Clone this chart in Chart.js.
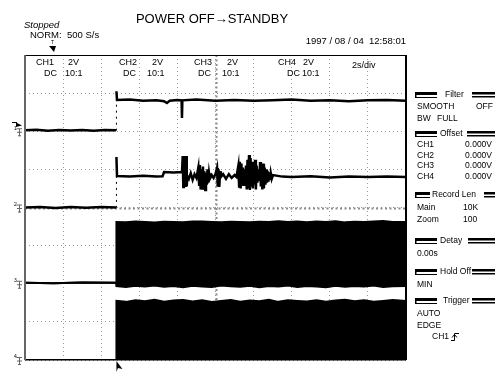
<!DOCTYPE html>
<html>
<head>
<meta charset="utf-8">
<script src="https://cdn.jsdelivr.net/npm/chart.js@4.4.1/dist/chart.umd.min.js"></script>
<style>
  html, body { margin: 0; padding: 0; background: #fff; }
  canvas { display: block; }
</style>
</head>
<body>
<canvas id="scope" width="497" height="372"></canvas>
<script>
// time in s (2 s/div, 10 div), traces in volts (2 V/div)
var ch1Time  = [0, 0.6, 1.2, 1.8, 2.4, 3.0, 3.6, 4.2, 4.78, 4.8, 4.83, 5.5, 6.2, 6.9, 7.3, 7.45, 7.6, 8.0, 8.22, 8.24, 8.26, 9, 10, 11, 12, 13, 14, 15, 16, 17, 18, 19, 20];
var ch1Volts = [0.05, 0.08, 0.03, 0.06, 0.04, 0.07, 0.03, 0.06, 0.05, 2.1, 1.64, 1.66, 1.60, 1.62, 1.58, 1.48, 1.60, 1.64, 1.62, 0.70, 1.62, 1.66, 1.60, 1.64, 1.60, 1.62, 1.66, 1.60, 1.62, 1.58, 1.62, 1.64, 1.60];

var ch2Time = [0, 0.8, 1.6, 2.4, 3.2, 4.0, 4.78, 4.80, 4.83, 5.5, 6.2, 6.9, 7.22, 7.30, 7.8, 8.24,
  8.28, 8.31, 8.34, 8.37, 8.40, 8.43, 8.46, 8.49, 8.52,
  8.6, 8.7, 8.8, 8.9, 9.0,
  9.10, 9.14, 9.18, 9.22, 9.26, 9.30, 9.34, 9.38, 9.42, 9.46, 9.50, 9.54, 9.58, 9.62, 9.66, 9.70,
  9.8, 9.9, 10.0,
  10.08, 10.12, 10.16, 10.20, 10.24, 10.28,
  10.4, 10.55, 10.7, 10.85, 11.0, 11.1,
  11.20, 11.24, 11.28, 11.32, 11.36, 11.40, 11.44, 11.48, 11.52, 11.56, 11.60, 11.64, 11.68, 11.72, 11.76, 11.80, 11.84, 11.88, 11.92, 11.96, 12.00, 12.04, 12.08, 12.12, 12.16, 12.20, 12.24,
  12.30, 12.34, 12.38, 12.42, 12.46, 12.50, 12.54, 12.58, 12.62, 12.66, 12.70, 12.74, 12.78, 12.82, 12.86, 12.90, 12.95, 13.02,
  13.5, 14, 15, 16, 17, 18, 19, 20];
var ch2Volts = [0.0, 0.03, -0.02, 0.02, -0.01, 0.02, 0.0, 2.65, 1.65, 1.62, 1.66, 1.63, 1.64, 1.86, 1.84, 1.86,
  2.70, 1.08, 2.70, 1.08, 2.70, 1.08, 2.70, 1.10, 1.65,
  1.50, 1.80, 1.45, 1.75, 1.55,
  2.10, 1.20, 2.23, 0.95, 2.00, 1.00, 2.15, 1.10, 1.90, 0.92, 1.80, 1.20, 2.00, 1.30, 1.80, 1.50,
  1.70, 1.55, 1.75,
  2.07, 1.10, 2.00, 1.08, 1.90, 1.60,
  1.75, 1.50, 1.75, 1.55, 1.70, 1.60,
  2.20, 1.10, 2.40, 1.00, 2.30, 1.20, 2.10, 1.30, 2.00, 1.20, 2.20, 0.95, 2.50, 1.00, 2.75, 0.92, 2.60, 1.10, 2.40, 1.00, 2.30, 1.20, 2.50, 0.95, 2.20, 1.30, 2.00,
  1.40, 2.39, 1.10, 2.20, 0.95, 2.30, 1.00, 2.10, 1.20, 2.00, 1.30, 1.90, 1.35, 1.85, 1.45, 1.80, 1.50, 1.70,
  1.62, 1.60, 1.64, 1.58, 1.62, 1.60, 1.62, 1.60];

// CH3 / CH4 switch too fast to resolve: upper and lower envelopes
var bandTime = [0, 1.5, 3.0, 4.78, 4.80, 5.3, 5.8, 6.3, 6.8, 7.3, 7.8, 8.3, 8.8, 9.3, 9.8, 10.3, 10.8, 11.3, 11.8, 12.3, 12.8, 13.3, 13.8, 14.3, 14.8, 15.3, 15.8, 16.3, 16.8, 17.3, 17.8, 18.3, 18.8, 19.3, 20];
var ch3High = [0.05, 0.03, 0.06, 0.05, 3.24, 3.22, 3.26, 3.24, 3.21, 3.25, 3.24, 3.22, 3.26, 3.27, 3.24, 3.22, 3.25, 3.24, 3.22, 3.25, 3.24, 3.28, 3.24, 3.26, 3.22, 3.27, 3.24, 3.28, 3.22, 3.25, 3.24, 3.26, 3.29, 3.24, 3.24];
var ch3Low  = [0.05, 0.03, 0.06, 0.05, -0.12, -0.17, -0.11, -0.15, -0.09, -0.16, -0.12, -0.18, -0.10, -0.14, -0.17, -0.09, -0.13, -0.16, -0.11, -0.18, -0.12, -0.15, -0.09, -0.17, -0.12, -0.14, -0.18, -0.11, -0.16, -0.12, -0.15, -0.09, -0.17, -0.13, -0.12];
var ch4High = [0.0, 0.0, 0.0, 0.0, 3.10, 3.05, 3.14, 3.08, 3.16, 3.06, 3.12, 3.15, 3.07, 3.13, 3.04, 3.10, 3.15, 3.06, 3.12, 3.08, 3.16, 3.05, 3.13, 3.10, 3.07, 3.14, 3.06, 3.12, 3.16, 3.08, 3.13, 3.05, 3.10, 3.15, 3.10];

var channelNames = ['CH1', 'CH2', 'CH3', 'CH4'];
var offsetValues = ['0.000V', '0.000V', '0.000V', '0.000V'];

// scope settings
var voltsPerDiv = 2;
var groundDiv = [6, 4, 2, 0];
var trigTime = 4.8;
var trigLevel = 0.3;
var FONT = '"Liberation Sans", Arial, Helvetica, sans-serif';

function toPoints(times, volts, ground) {
  return times.map(function(t, i) { return { x: t, y: ground + volts[i] / voltsPerDiv }; });
}

function isTrigJump(c) {
  return c.p0.parsed.x < trigTime && Math.abs(c.p1.parsed.x - trigTime) < 1e-6;
}
var trigSegment = {
  borderDash: function(c) { return isTrigJump(c) ? [2, 4] : undefined; },
  borderWidth: function(c) { return isTrigJump(c) ? 1 : undefined; }
};

function txt(ctx, s, x, y, size, align, style) {
  ctx.font = (style ? style + ' ' : '') + size + 'px ' + FONT;
  ctx.textAlign = align || 'left';
  ctx.textBaseline = 'middle';
  ctx.fillText(s, x, y);
}

function panelHeader(ctx, label, y, leftEnd, textX, rightStart) {
  ctx.fillRect(415, y - 3, leftEnd - 415, 3);
  ctx.fillRect(415, y - 3, 1.5, 6);
  ctx.fillRect(415, y + 2, leftEnd - 415, 1);
  txt(ctx, label, textX, y, 8.5);
  ctx.fillRect(rightStart, y - 3, 495 - rightStart, 2.5);
  ctx.fillRect(rightStart, y + 1, 495 - rightStart, 1.5);
}

function groundMark(ctx, n, y) {
  ctx.save();
  txt(ctx, String(n), 14, y - 3, 5);
  ctx.lineWidth = 1;
  ctx.beginPath();
  ctx.moveTo(16.5, y - 2.5); ctx.lineTo(22, y - 2.5);
  ctx.moveTo(19.5, y - 2.5); ctx.lineTo(19.5, y + 5);
  ctx.moveTo(17, y + 1); ctx.lineTo(22, y + 1);
  ctx.moveTo(18, y + 4.5); ctx.lineTo(21, y + 4.5);
  ctx.stroke();
  ctx.restore();
}

var scopePlugin = {
  id: 'scope',
  beforeDraw: function(chart) {
    var ctx = chart.ctx;
    ctx.save();
    ctx.fillStyle = '#fff';
    ctx.fillRect(0, 0, chart.width, chart.height);
    ctx.restore();
  },
  beforeDatasetsDraw: function(chart) {
    var ctx = chart.ctx, a = chart.chartArea;
    var xs = chart.scales.x, ys = chart.scales.y;
    var cx = Math.round(xs.getPixelForValue(10)) + 0.5;
    var cy = Math.round(ys.getPixelForValue(4)) + 0.5;
    ctx.save();
    ctx.strokeStyle = '#8a8a8a';
    ctx.lineWidth = 2;
    ctx.setLineDash([2, 2.5]);
    ctx.beginPath();
    ctx.moveTo(a.left, cy); ctx.lineTo(a.right, cy);
    ctx.moveTo(cx, a.top); ctx.lineTo(cx, a.bottom);
    ctx.stroke();
    ctx.restore();
  },
  afterDatasetsDraw: function(chart) {
    var ctx = chart.ctx, a = chart.chartArea;
    var xs = chart.scales.x, ys = chart.scales.y;
    ctx.save();
    // frame
    ctx.strokeStyle = '#000';
    ctx.lineWidth = 1;
    ctx.beginPath();
    ctx.moveTo(a.left, a.top + 0.5); ctx.lineTo(a.right, a.top + 0.5);
    ctx.moveTo(a.left, a.bottom); ctx.lineTo(a.right, a.bottom);
    ctx.stroke();
    ctx.lineWidth = 2;
    ctx.beginPath();
    ctx.moveTo(a.right, a.top); ctx.lineTo(a.right, a.bottom);
    ctx.stroke();
    ctx.strokeStyle = '#666';
    ctx.beginPath();
    ctx.moveTo(a.left, a.top); ctx.lineTo(a.left, a.bottom);
    ctx.stroke();

    // channel settings in the graticule
    ctx.fillStyle = '#000';
    var cols = [[36, 68, 44, 65], [119, 152, 123, 147], [194, 227, 198, 222], [278, 303, 287, 302]];
    cols.forEach(function(c, i) {
      txt(ctx, channelNames[i], c[0], 62.5, 9);
      txt(ctx, voltsPerDiv + 'V', c[1], 62.5, 9);
      txt(ctx, 'DC', c[2], 73.5, 9);
      txt(ctx, '10:1', c[3], 73.5, 9);
    });
    txt(ctx, voltsPerDiv + 's/div', 352, 66, 9);

    // ground markers
    groundDiv.forEach(function(g, i) { groundMark(ctx, i + 1, ys.getPixelForValue(g)); });
    // CH1 trigger level
    var ty = ys.getPixelForValue(groundDiv[0] + trigLevel / voltsPerDiv);
    ctx.beginPath();
    ctx.moveTo(22, ty); ctx.lineTo(16, ty - 3); ctx.lineTo(16, ty + 1.5); ctx.closePath();
    ctx.fill();
    ctx.fillRect(12, ty - 3.5, 5, 1);
    // trigger point marker (bottom)
    var tx = xs.getPixelForValue(trigTime);
    ctx.beginPath();
    ctx.moveTo(tx, a.bottom + 1); ctx.lineTo(tx + 6, a.bottom + 9); ctx.lineTo(tx + 1.5, a.bottom + 8); ctx.lineTo(tx, a.bottom + 12); ctx.closePath();
    ctx.fill();
    ctx.restore();
  },
  afterDraw: function(chart) {
    var ctx = chart.ctx;
    ctx.save();
    ctx.fillStyle = '#000';
    txt(ctx, 'Stopped', 24, 25, 9.5, 'left', 'italic');
    txt(ctx, 'NORM:  500 S/s', 30, 35.5, 9.5);
    txt(ctx, 'POWER OFF\u2192STANDBY', 212, 19.5, 13, 'center');
    txt(ctx, '1997 / 08 / 04  12:58:01', 406, 41, 9.5, 'right');
    // pre-trigger marker (top)
    txt(ctx, 'T', 52.5, 42.5, 5, 'center');
    ctx.beginPath();
    ctx.moveTo(49, 46); ctx.lineTo(56, 46); ctx.lineTo(54, 52); ctx.closePath();
    ctx.fill();

    // right settings panel
    panelHeader(ctx, 'Filter', 95, 437, 445, 472);
    txt(ctx, 'SMOOTH', 417, 107, 8.5);
    txt(ctx, 'OFF', 476, 107, 8.5);
    txt(ctx, 'BW', 417, 119, 8.5);
    txt(ctx, 'FULL', 437, 119, 8.5);
    panelHeader(ctx, 'Offset', 134, 437, 440, 467);
    channelNames.forEach(function(n, i) {
      var y = 145 + i * 10.5;
      txt(ctx, n, 417, y, 8.5);
      txt(ctx, offsetValues[i], 492, y, 8.5, 'right');
    });
    panelHeader(ctx, 'Record Len', 195, 430, 432, 484);
    txt(ctx, 'Main', 417, 208, 8.5);
    txt(ctx, '10K', 463, 208, 8.5);
    txt(ctx, 'Zoom', 417, 220, 8.5);
    txt(ctx, '100', 463, 220, 8.5);
    panelHeader(ctx, 'Detay', 241, 437, 440, 468);
    txt(ctx, '0.00s', 417, 254, 8.5);
    panelHeader(ctx, 'Hold Off', 272, 437, 440, 472);
    txt(ctx, 'MIN', 417, 285, 8.5);
    panelHeader(ctx, 'Trigger', 301, 437, 443, 472);
    txt(ctx, 'AUTO', 417, 314, 8.5);
    txt(ctx, 'EDGE', 417, 326, 8.5);
    txt(ctx, 'CH1', 432, 337, 8.5);
    // rising edge symbol
    ctx.lineWidth = 1;
    ctx.beginPath();
    ctx.moveTo(451, 340.5); ctx.lineTo(454.5, 340.5); ctx.lineTo(454.5, 333.5); ctx.lineTo(459, 333.5);
    ctx.moveTo(452, 337.5); ctx.lineTo(454.5, 334.5); ctx.lineTo(457, 337.5);
    ctx.stroke();
    ctx.restore();
  }
};

var traceStyle = { borderColor: '#000', pointRadius: 0, tension: 0, fill: false };

new Chart(document.getElementById('scope'), {
  type: 'line',
  data: {
    datasets: [
      Object.assign({}, traceStyle, { label: 'CH1', data: toPoints(ch1Time, ch1Volts, groundDiv[0]), borderWidth: 2.5, segment: trigSegment }),
      Object.assign({}, traceStyle, { label: 'CH2', data: toPoints(ch2Time, ch2Volts, groundDiv[1]), borderWidth: 2.5, segment: trigSegment }),
      Object.assign({}, traceStyle, { label: 'CH3 low', data: toPoints(bandTime, ch3Low, groundDiv[2]), borderWidth: 2 }),
      Object.assign({}, traceStyle, { label: 'CH3 high', data: toPoints(bandTime, ch3High, groundDiv[2]), borderWidth: 2, fill: '-1', backgroundColor: '#000' }),
      Object.assign({}, traceStyle, { label: 'CH4', data: toPoints(bandTime, ch4High, groundDiv[3]), borderWidth: 2, fill: 'origin', backgroundColor: '#000' })
    ]
  },
  options: {
    responsive: false,
    animation: false,
    devicePixelRatio: 1,
    layout: { padding: { left: 25, top: 55, right: 91, bottom: 12 } },
    plugins: { legend: { display: false }, tooltip: { enabled: false } },
    scales: {
      x: {
        type: 'linear', min: 0, max: 20,
        ticks: { display: false, stepSize: 2 },
        grid: { drawTicks: false, color: '#9a9a9a', lineWidth: 1 },
        border: { display: false, dash: [1, 3] }
      },
      y: {
        type: 'linear', min: 0, max: 8,
        ticks: { display: false, stepSize: 1 },
        grid: { drawTicks: false, color: '#9a9a9a', lineWidth: 1 },
        border: { display: false, dash: [1, 3] }
      }
    }
  },
  plugins: [scopePlugin]
});
</script>
</body>
</html>
